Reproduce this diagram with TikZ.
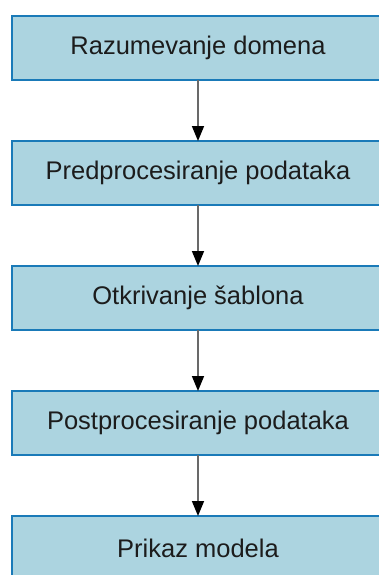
\documentclass[tikz,border=0pt]{standalone}
\usepackage{fontspec}
\setmainfont{Liberation Sans}
\usetikzlibrary{arrows.meta}
\definecolor{boxfill}{RGB}{172,212,224}
\definecolor{boxedge}{RGB}{26,122,184}
\definecolor{linegray}{RGB}{105,105,105}
\definecolor{textdark}{RGB}{28,28,28}
\tikzset{
  stagebox/.style={draw=boxedge, fill=boxfill, line width=2.4pt,
    minimum width=372pt, minimum height=64pt, inner sep=0pt, outer sep=0pt,
    font=\fontsize{25.5}{30}\selectfont, text=textdark},
  flowarrow/.style={draw=linegray, line width=1.6pt,
    -{Triangle[width=12pt,length=15pt,color=black]}, shorten >=0pt}
}
\begin{document}
\begin{tikzpicture}[x=1pt, y=-1pt]
  \useasboundingbox (0,0) rectangle (379,575);
  \clip (0,0) rectangle (379,575);
  \fill[white] (0,0) rectangle (379,575);
  \node[stagebox] (s1) at (198,48)  {Razumevanje domena};
  \node[stagebox] (s2) at (198,173) {Predprocesiranje podataka};
  \node[stagebox] (s3) at (198,298) {Otkrivanje šablona};
  \node[stagebox] (s4) at (198,423) {Postprocesiranje podataka};
  \node[stagebox] (s5) at (198,548) {Prikaz modela};
  \draw[flowarrow] (s1.south) -- (s2.north);
  \draw[flowarrow] (s2.south) -- (s3.north);
  \draw[flowarrow] (s3.south) -- (s4.north);
  \draw[flowarrow] (s4.south) -- (s5.north);
\end{tikzpicture}
\end{document}
